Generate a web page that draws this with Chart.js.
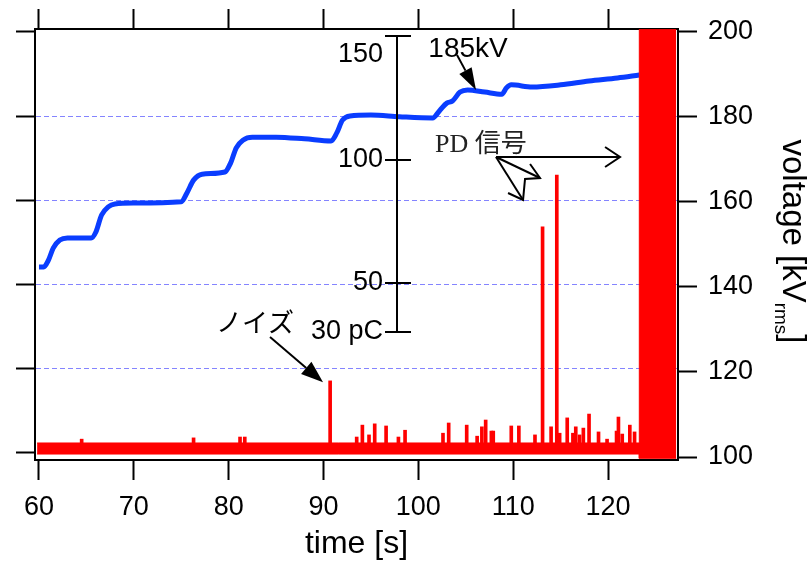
<!DOCTYPE html>
<html>
<head>
<meta charset="utf-8">
<script src="https://cdn.jsdelivr.net/npm/chart.js@4.4.1/dist/chart.umd.min.js"></script>
<style>
  html, body { margin: 0; padding: 0; background: #fff; }
  #wrap { width: 808px; height: 563px; }
</style>
</head>
<body>
<div id="wrap"><canvas id="c" width="808" height="563"></canvas></div>
<script>
// tick values
const xTicks = [60, 70, 80, 90, 100, 110, 120];
const vTicks = [100, 120, 140, 160, 180, 200];
const pdTicks = [150, 100, 50, 30];
const pdLabels = ['150', '100', '50', '30 pC'];

// applied voltage (kV rms)
const vTime = [60.0, 60.5, 61.0, 61.5, 62.2, 63.0, 65.5, 66.0, 66.6, 67.3, 68.0, 70.0,
  75.0, 75.6, 76.3, 77.2, 79.6, 80.2, 80.8, 81.5, 82.5, 85.0, 88.0, 90.8, 91.4, 92.0,
  92.8, 95.0, 98.0, 101.5, 102.3, 103.0, 103.6, 104.4, 105.2, 107.0, 108.8, 109.3,
  109.8, 112.0, 115.0, 118.0, 121.0, 123.3];
const vKv = [144.7, 144.7, 146.3, 149.1, 151.0, 151.5, 151.5, 152.9, 156.9, 158.8, 159.5, 159.7,
  160.0, 162.1, 165.1, 166.5, 167.0, 169.1, 172.7, 174.5, 175.2, 175.2, 174.8, 174.3, 176.2, 179.2,
  180.2, 180.4, 180.0, 179.7, 181.6, 183.2, 183.7, 185.8, 186.3, 185.8, 185.3, 186.8,
  187.5, 187.0, 187.5, 188.4, 189.1, 189.8];

// PD signal envelope (noise band, then saturated block), plotted in kV-axis units
const sigTime = [59.8, 123.3, 123.3, 127.2];
const sigLow = [100.7, 100.7, 99.7, 99.7];
const sigHigh = [103.3, 103.3, 200.6, 200.6];

// individual pulses
const spikeBase = 101;
const spikeTime = [64.5, 76.3, 81.2, 81.7, 90.7, 93.5, 94.1, 94.8, 95.4, 96.6,
  97.9, 98.6, 102.6, 103.2, 105.1, 106.2, 106.7, 107.1, 107.7, 107.9,
  109.8, 110.6, 112.3, 113.1, 114.0, 114.6, 114.9, 115.7, 116.3, 116.6,
  117.0, 117.4, 118.0, 119.0, 119.9, 120.9, 121.1, 121.5, 122.3, 122.8];
const spikeTop = [104.2, 104.5, 104.7, 104.7, 117.9, 104.7, 107.5, 105.2, 107.8, 107.3,
  104.7, 106.3, 105.6, 108.0, 107.5, 104.9, 107.1, 108.7, 106.1, 106.1,
  107.3, 107.3, 105.2, 154.1, 107.1, 166.3, 105.6, 109.2, 105.6, 107.1,
  105.2, 106.8, 110.1, 105.9, 104.2, 106.1, 109.4, 105.4, 107.5, 105.9];

const pdAxisTime = 97.75;

const SANS = "'Liberation Sans', 'Noto Sans CJK JP', sans-serif";
Chart.defaults.font.family = SANS;
Chart.defaults.color = '#000';

const setTicks = vals => s => { s.ticks = vals.map(v => ({ value: v })); };

// inner pC axis, annotations and the right axis title
const overlay = {
  id: 'overlay',
  afterDraw(chart) {
    const { ctx, chartArea, scales } = chart;
    const X = t => scales.x.getPixelForValue(t);
    const Y = k => scales.v.getPixelForValue(k);
    const P = q => scales.pd.getPixelForValue(q);
    const seg = (x1, y1, x2, y2) => { ctx.beginPath(); ctx.moveTo(x1, y1); ctx.lineTo(x2, y2); ctx.stroke(); };
    const poly = pts => { ctx.beginPath(); pts.forEach((p, i) => i ? ctx.lineTo(p[0], p[1]) : ctx.moveTo(p[0], p[1])); ctx.stroke(); };
    const arrow = (x1, y1, x2, y2, len, half) => {
      const a = Math.atan2(y2 - y1, x2 - x1);
      const bx = x2 - len * Math.cos(a), by = y2 - len * Math.sin(a);
      seg(x1, y1, bx, by);
      ctx.beginPath();
      ctx.moveTo(x2, y2);
      ctx.lineTo(bx + half * Math.sin(a), by - half * Math.cos(a));
      ctx.lineTo(bx - half * Math.sin(a), by + half * Math.cos(a));
      ctx.closePath();
      ctx.fill();
    };

    ctx.save();
    ctx.strokeStyle = '#000';
    ctx.fillStyle = '#000';
    ctx.lineWidth = 2;

    const ax = Math.round(X(pdAxisTime));
    seg(ax, P(pdTicks[0]), ax, P(pdTicks[pdTicks.length - 1]));
    ctx.font = '27px ' + SANS;
    ctx.textAlign = 'right';
    ctx.textBaseline = 'middle';
    pdTicks.forEach((q, i) => {
      const y = Math.round(P(q));
      seg(ax - 12, y, ax + 14, y);
      ctx.fillText(pdLabels[i], ax - 14, Math.max(y, chartArea.top + 26));
    });

    // 185kV
    ctx.textAlign = 'center';
    ctx.font = '28px ' + SANS;
    ctx.fillText('185kV', X(105.24), Y(195.9));
    arrow(X(104.08), Y(194.5), X(106.08), Y(186.3), 22, 7);

    // noise
    ctx.font = "26px 'Noto Sans CJK JP', sans-serif";
    ctx.fillText('ノイズ', X(82.78), Y(131.7));
    arrow(X(84.36), Y(128.2), X(89.95), Y(117.6), 22, 8);

    // PD signal
    ctx.textAlign = 'left';
    ctx.fillStyle = '#222';
    ctx.font = "26px 'Liberation Serif', 'Noto Sans CJK JP', serif";
    ctx.fillText('PD 信号', X(101.76), Y(173.4));
    const S = [X(108.19), Y(170.54)];
    const E = X(121.27);
    seg(S[0], S[1], E, S[1]);
    poly([[E - 15, S[1] - 10], [E, S[1]], [E - 15, S[1] + 10]]);
    const A = [X(112.83), Y(165.6)], B = [X(111.04), Y(160.43)];
    seg(S[0], S[1], A[0], A[1]);
    seg(S[0], S[1], B[0], B[1]);
    poly([[X(111.78), Y(168.89)], A, [X(111.25), Y(165.37)], B, [X(109.46), Y(162.07)]]);

    // right axis title with subscript
    ctx.fillStyle = '#000';
    ctx.translate(chartArea.right + 105, (chartArea.top + chartArea.bottom) / 2 - 3);
    ctx.rotate(Math.PI / 2);
    ctx.textBaseline = 'alphabetic';
    const big = '33px ' + SANS, small = '19px ' + SANS;
    ctx.font = big; const w1 = ctx.measureText('voltage [kV').width, w3 = ctx.measureText(']').width;
    ctx.font = small; const w2 = ctx.measureText('rms').width;
    let s = -(w1 + w2 + w3) / 2;
    ctx.font = big; ctx.fillText('voltage [kV', s, 0); s += w1;
    ctx.font = small; ctx.fillText('rms', s, 8); s += w2;
    ctx.font = big; ctx.fillText(']', s, 0);
    ctx.restore();
  }
};

new Chart(document.getElementById('c'), {
  type: 'line',
  data: {
    datasets: [
      {
        label: 'sigLow',
        data: sigTime.map((t, i) => ({ x: t, y: sigLow[i] })),
        yAxisID: 'v',
        borderColor: '#ff0000',
        borderWidth: 1,
        pointRadius: 0,
        fill: false
      },
      {
        label: 'sigHigh',
        data: sigTime.map((t, i) => ({ x: t, y: sigHigh[i] })),
        yAxisID: 'v',
        borderColor: '#ff0000',
        backgroundColor: '#ff0000',
        borderWidth: 1,
        pointRadius: 0,
        fill: '-1'
      },
      {
        type: 'bar',
        label: 'pulses',
        data: spikeTime.map((t, i) => ({ x: t, y: [spikeBase, spikeTop[i]] })),
        yAxisID: 'v',
        backgroundColor: '#ff0000',
        barThickness: 3,
        grouped: false
      },
      {
        label: 'voltage',
        data: vTime.map((t, i) => ({ x: t, y: vKv[i] })),
        yAxisID: 'v',
        borderColor: '#0a3dff',
        borderWidth: 5,
        pointRadius: 0,
        cubicInterpolationMode: 'monotone',
        fill: false
      }
    ]
  },
  options: {
    responsive: false,
    animation: false,
    events: [],
    layout: { padding: 0 },
    plugins: { legend: { display: false }, tooltip: { enabled: false } },
    scales: {
      x: {
        type: 'linear',
        position: 'bottom',
        min: 59.58,
        max: 127.38,
        offset: false,
        afterBuildTicks: setTicks(xTicks),
        afterFit: s => { s.height = 103; },
        ticks: { font: { size: 27 }, padding: 11, maxRotation: 0, autoSkip: false, color: '#000' },
        grid: { offset: false, drawOnChartArea: false, tickLength: 20, tickWidth: 2, tickColor: '#000' },
        border: { color: '#000', width: 2 },
        title: { display: true, text: 'time [s]', font: { size: 32 }, color: '#000', padding: { top: 0, bottom: 0 } }
      },
      xt: {
        type: 'linear',
        axis: 'x',
        position: 'top',
        min: 59.58,
        max: 127.38,
        offset: false,
        afterBuildTicks: setTicks(xTicks),
        afterFit: s => { s.height = 29; },
        ticks: { display: false },
        grid: { offset: false, drawOnChartArea: false, tickLength: 20, tickWidth: 2, tickColor: '#000' },
        border: { color: '#000', width: 2 }
      },
      yl: {
        type: 'linear',
        axis: 'y',
        position: 'left',
        min: 98.3,
        max: 200.7,
        afterBuildTicks: setTicks(vTicks),
        afterFit: s => { s.width = 35; },
        ticks: { display: false },
        grid: {
          color: c => (c.tick && (c.tick.value === 100 || c.tick.value === 200)) ? 'rgba(0,0,0,0)' : 'rgba(110,110,255,0.85)',
          lineWidth: 1,
          tickLength: 19,
          tickWidth: 2,
          tickColor: '#000'
        },
        border: { color: '#000', width: 2, dash: [5, 3] }
      },
      v: {
        type: 'linear',
        axis: 'y',
        position: 'right',
        min: 99.3,
        max: 200.63,
        afterBuildTicks: setTicks(vTicks),
        afterFit: s => { s.width = 130; },
        ticks: { font: { size: 27 }, padding: 11, color: '#000' },
        grid: { drawOnChartArea: false, tickLength: 19, tickWidth: 2, tickColor: '#000' },
        border: { color: '#000', width: 2 }
      },
      pd: {
        type: 'linear',
        axis: 'y',
        position: 'left',
        display: false,
        min: -21.7,
        max: 152.9
      }
    }
  },
  plugins: [overlay]
});
</script>
</body>
</html>
